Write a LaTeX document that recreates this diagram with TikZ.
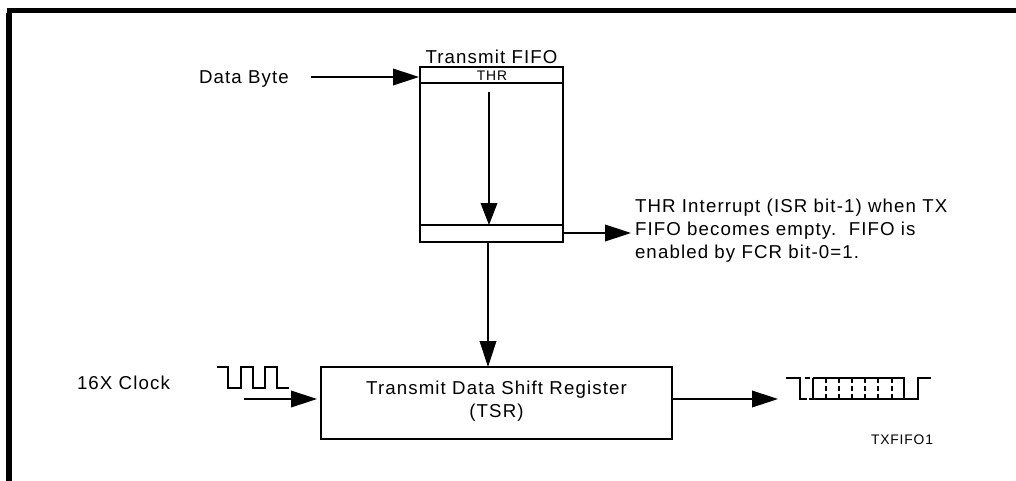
\documentclass[tikz,border=0pt]{standalone}
\usepackage{fontspec}
\setmainfont{Liberation Sans}[LetterSpace=6]
\usetikzlibrary{arrows.meta}
\tikzset{
  x=0.75pt,y=-0.75pt,
  every node/.style={inner sep=0pt,outer sep=0pt},
  lbl/.style={font=\fontsize{14}{17.25}\selectfont,text=black},
  small/.style={font=\fontsize{10.4}{12}\selectfont,text=black},
  line/.style={draw=black,line width=1.1pt},
  arr/.style={line,-{Triangle[length=19.5pt,width=12.5pt,inset=0pt]}},
  arrshort/.style={line,-{Triangle[length=16.5pt,width=12.5pt,inset=0pt]}},
  regbox/.style={draw=black,line width=1.1pt,fill=white,anchor=north west},
  dashline/.style={draw=black,line width=1.2pt,dash pattern=on 3.75pt off 2.1pt}
}
\begin{document}
\begin{tikzpicture}
\useasboundingbox (0,0) rectangle (1016,481);
\fill[black] (7,8) rectangle (1016,13);
\fill[black] (6,13) rectangle (12,481);
% FIFO
\node[regbox,minimum width=107.25pt,minimum height=131.25pt] (fifo) at (420,67) {};
\coordinate (thrL) at (420,83);
\coordinate (thrR) at (563,83);
\coordinate (botL) at (420,225);
\coordinate (botR) at (563,225);
\draw[line] (thrL) -- (thrR);
\draw[line] (botL) -- (botR);
\node[lbl,anchor=base] (title) at (491.5,64) {Transmit FIFO};
\node[small,anchor=base] (thr) at (492,81) {THR};
\node[lbl,anchor=base west] (data) at (199,84) {Data Byte};
\node[lbl,anchor=base west] (clk) at (77,389) {16X Clock};
\node[lbl,anchor=base west] (note) at (635,212) {THR Interrupt (ISR bit-1) when TX};
\node[lbl,anchor=base west] (note2) at (635,235) {FIFO becomes empty.\ \ FIFO is};
\node[lbl,anchor=base west] (note3) at (635,258) {enabled by FCR bit-0=1.};
\node[regbox,minimum width=263.25pt,minimum height=54pt] (tsr) at (321,367) {};
\node[lbl,align=center] (tsrlabel) at (496.5,401) {Transmit Data Shift Register\\(TSR)};
\node[small,anchor=base east] (tag) at (933,444) {TXFIFO1};
% connectors
\coordinate (d0) at (311,77);
\coordinate (d1) at (419,77);
\draw[arr] (d0) -- (d1);
\coordinate (a0) at (489,92);
\coordinate (a1) at (489,225);
\draw[arrshort] (a0) -- (a1);
\coordinate (b0) at (488,242);
\coordinate (b1) at (488,367);
\draw[arr] (b0) -- (b1);
\coordinate (c0) at (563,233);
\coordinate (c1) at (631,233);
\draw[arr] (c0) -- (c1);
\coordinate (e0) at (244,399);
\coordinate (e1) at (317,399);
\draw[arr] (e0) -- (e1);
\coordinate (f0) at (672,399);
\coordinate (f1) at (778,399);
\draw[arr] (f0) -- (f1);
% clock
\draw[line] (217,367) -- (228,367) -- (228,388) -- (241,388) -- (241,367) -- (253,367) -- (253,388) -- (265,388) -- (265,367) -- (277,367) -- (277,388) -- (289,388);
% serial waveform
\draw[line] (786,378) -- (800,378) -- (800,399) -- (807,399);
\draw[line] (805,378) -- (810,378);
\draw[line] (809,399) -- (918,399) -- (918,378) -- (931,378);
\draw[line] (813,378) -- (813,399);
\draw[line] (813,378) -- (904,378) -- (904,399);
\foreach \x in {826,839,852,865,878,892}
  \draw[dashline] (\x,378) -- (\x,399);
\end{tikzpicture}
\end{document}
